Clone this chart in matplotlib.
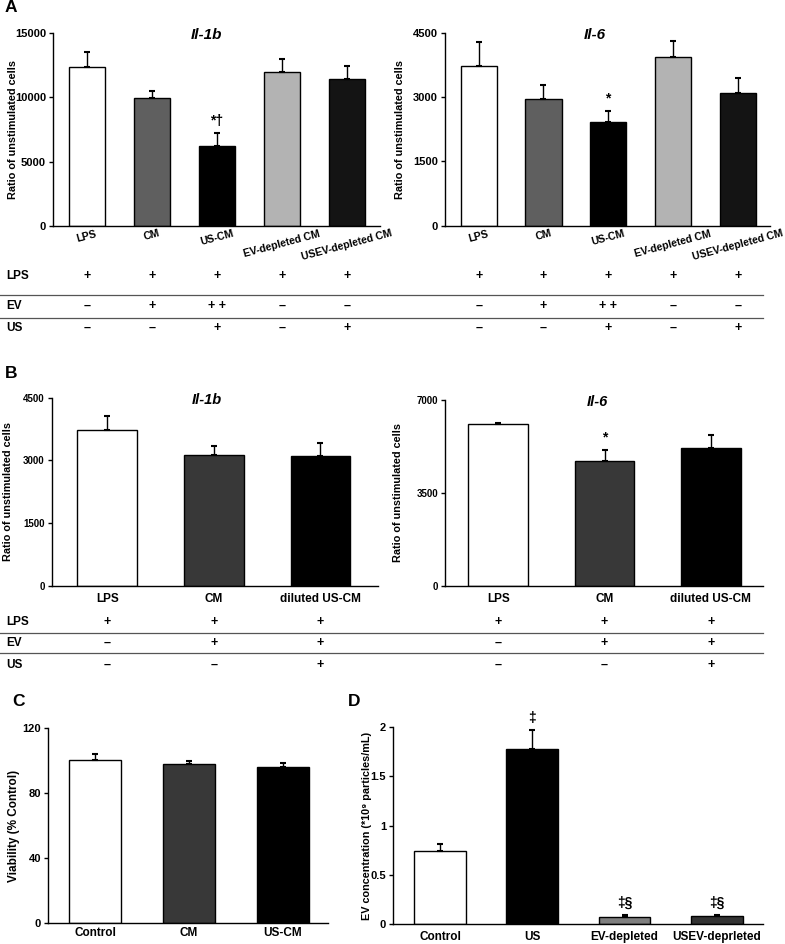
import numpy as np
import matplotlib
matplotlib.use("Agg")
import matplotlib.pyplot as plt
from matplotlib.lines import Line2D
from matplotlib import transforms

plt.rcParams['font.family'] = ['Liberation Sans', 'DejaVu Sans']
plt.rcParams['font.weight'] = 'bold'
NARROW = ['Liberation Sans Narrow', 'Liberation Sans', 'DejaVu Sans']

W, H = 785, 944

# ---- panel A data ----
a_groups   = ["LPS", "CM", "US-CM", "EV-depleted CM", "USEV-depleted CM"]
a_il1b     = [12400, 9980, 6210, 11960, 11460]
a_il1b_err = [1120, 520, 990, 1060, 970]
a_il1b_sig = ["", "", "*\u2020", "", ""]
a_il6      = [3730, 2945, 2415, 3940, 3100]
a_il6_err  = [550, 335, 250, 375, 335]
a_il6_sig  = ["", "", "*", "", ""]
a_colors   = ["white", "#5f5f5f", "black", "#b3b3b3", "#141414"]
a_lps = ["+", "+", "+", "+", "+"]
a_ev  = ["\u2013", "+", "+ +", "\u2013", "\u2013"]
a_us  = ["\u2013", "\u2013", "+", "\u2013", "+"]

# ---- panel B data ----
b_groups   = ["LPS", "CM", "diluted US-CM"]
b_il1b     = [3725, 3128, 3104]
b_il1b_err = [345, 215, 310]
b_il6      = [6070, 4680, 5195]
b_il6_err  = [40, 410, 475]
b_il6_sig  = ["", "*", ""]
b_colors   = ["white", "#383838", "black"]
b_lps = ["+", "+", "+"]
b_ev  = ["\u2013", "+", "+"]
b_us  = ["\u2013", "\u2013", "+"]

# ---- panel C data ----
c_groups = ["Control", "CM", "US-CM"]
c_viab   = [100.5, 98.1, 96.4]
c_err    = [3.5, 1.6, 2.5]
c_colors = ["white", "#383838", "black"]

# ---- panel D data ----
d_groups = ["Control", "US", "EV-depleted", "USEV-deprleted"]
d_conc   = [0.744, 1.774, 0.077, 0.084]
d_err    = [0.064, 0.19, 0.017, 0.010]
d_sig    = ["", "\u2021", "\u2021\u00a7", "\u2021\u00a7"]
d_colors = ["white", "black", "#7f7f7f", "#333333"]

fig = plt.figure(figsize=(W / 100, H / 100), dpi=100)


def px_axes(x0, y0, x1, y1):
    return fig.add_axes([x0 / W, 1 - y1 / H, (x1 - x0) / W, (y1 - y0) / H])


def bar_panel(ax, vals, errs, colors, labels, xlim, ylim, yticks, width=0.56,
              tick_size=8, label_size=8.5, family=None, rot=0, pad=2, sig=None):
    fam = family or plt.rcParams['font.family']
    x = np.arange(len(vals))
    ax.bar(x, vals, width=width, color=colors, edgecolor="black", linewidth=1.0, zorder=2)
    ax.errorbar(x, vals, yerr=[np.zeros(len(errs)), errs], fmt="none", ecolor="black",
                elinewidth=1.0, capsize=2.0, capthick=1.5, zorder=3)
    if sig is not None:
        for i, s in enumerate(sig):
            if s:
                ax.annotate(s, (x[i], vals[i] + errs[i]), xytext=(0, 9), textcoords="offset points",
                            ha="center", va="center", fontsize=10, fontweight="bold", family=fam)
    ax.set_xlim(*xlim)
    ax.set_ylim(*ylim)
    ax.set_yticks(yticks)
    ax.set_xticks(x)
    if rot:
        ax.set_xticklabels(labels, rotation=rot, ha="center", va="top", fontsize=label_size,
                           fontweight="bold", family=fam)
    else:
        ax.set_xticklabels(labels, fontsize=label_size, fontweight="bold", family=fam)
    for lab in ax.get_yticklabels():
        lab.set_fontsize(tick_size)
        lab.set_fontweight("bold")
        lab.set_family(fam)
    ax.tick_params(axis="x", length=0, pad=pad)
    ax.tick_params(axis="y", length=3, width=1, pad=2)
    for s in ["top", "right"]:
        ax.spines[s].set_visible(False)
    for s in ["left", "bottom"]:
        ax.spines[s].set_linewidth(1.0)
    return x


def ylabel_at(ax, text, x_px, size, family=None):
    ax.set_ylabel(text, fontsize=size, fontweight="bold", family=family or plt.rcParams['font.family'])
    bb = ax.get_position()
    ax.yaxis.set_label_coords((x_px / W - bb.x0) / bb.width, 0.5)


def title_at(ax, text, xfrac, size, family=None):
    ax.text(xfrac, 0.99, text, transform=ax.transAxes, ha="center", va="center",
            fontsize=size, fontweight="bold", style="italic",
            family=family or plt.rcParams['font.family'])


def table_rows(ax, rows, ys, size=9):
    tr = transforms.blended_transform_factory(ax.transData, fig.transFigure)
    for row, y in zip(rows, ys):
        for i, s in enumerate(row):
            ax.text(i, 1 - y / H, s, transform=tr, ha="center", va="center",
                    fontsize=size, fontweight="bold", clip_on=False)


def hline(y, x0=0, x1=763):
    fig.add_artist(Line2D([x0 / W, x1 / W], [1 - y / H, 1 - y / H], transform=fig.transFigure,
                          color="#555555", linewidth=0.9))


def row_labels(names, ys, size=8.5):
    for n, y in zip(names, ys):
        fig.text(6 / W, 1 - y / H, n, ha="left", va="center", fontsize=size, fontweight="bold")


# ---------------- A ----------------
ax = px_axes(53, 33.3, 380, 225.7)
bar_panel(ax, a_il1b, a_il1b_err, a_colors, a_groups, (-0.52, 4.51), (0, 15000),
          [0, 5000, 10000, 15000], label_size=7.6, rot=15, pad=2, sig=a_il1b_sig)
ylabel_at(ax, "Ratio of unstimulated cells", 18, 7.8)
title_at(ax, "Il-1b", 0.47, 11)
table_rows(ax, [a_lps, a_ev, a_us], [276, 306, 328])

ax = px_axes(445, 32.7, 770, 225.7)
bar_panel(ax, a_il6, a_il6_err, a_colors, a_groups, (-0.52, 4.5), (0, 4500),
          [0, 1500, 3000, 4500], label_size=7.6, rot=15, pad=2, sig=a_il6_sig)
ylabel_at(ax, "Ratio of unstimulated cells", 405, 7.8)
title_at(ax, "Il-6", 0.46, 11)
table_rows(ax, [a_lps, a_ev, a_us], [276, 306, 328])

row_labels(["LPS", "EV", "US"], [276, 306, 328])
hline(295)
hline(318)

# ---------------- B ----------------
ax = px_axes(51.7, 397.7, 378, 585.7)
bar_panel(ax, b_il1b, b_il1b_err, b_colors, b_groups, (-0.52, 2.54), (0, 4500),
          [0, 1500, 3000, 4500], tick_size=7, label_size=8.5, family=NARROW, pad=5)
ylabel_at(ax, "Ratio of unstimulated cells", 13, 7.8)
title_at(ax, "Il-1b", 0.476, 10.5, family=NARROW)
table_rows(ax, [b_lps, b_ev, b_us], [622, 643, 665])

ax = px_axes(445, 399.7, 763, 585.7)
bar_panel(ax, b_il6, b_il6_err, b_colors, b_groups, (-0.5, 2.49), (0, 7000),
          [0, 3500, 7000], tick_size=7, label_size=8.5, family=NARROW, pad=5, sig=b_il6_sig)
ylabel_at(ax, "Ratio of unstimulated cells", 403, 7.8)
title_at(ax, "Il-6", 0.478, 10.5, family=NARROW)
table_rows(ax, [b_lps, b_ev, b_us], [622, 643, 665])

row_labels(["LPS", "EV", "US"], [622, 643, 665])
hline(633)
hline(653)

# ---------------- C ----------------
ax = px_axes(48, 728.3, 328, 923.3)
bar_panel(ax, c_viab, c_err, c_colors, c_groups, (-0.5, 2.48), (0, 120),
          [0, 40, 80, 120], width=0.55, tick_size=8, label_size=8.5, pad=3)
ylabel_at(ax, "Viability (% Control)", 20, 8.5)

# ---------------- D ----------------
ax = px_axes(393, 726.7, 763, 924.3)
bar_panel(ax, d_conc, d_err, d_colors, d_groups, (-0.51, 3.5), (0, 2),
          [0, 0.5, 1, 1.5, 2], tick_size=8, label_size=8.5, pad=5, sig=d_sig)
ax.set_yticklabels(["0", "0.5", "1", "1.5", "2"], fontsize=8, fontweight="bold")
ylabel_at(ax, "EV concentration (*10\u2079 particles/mL)", 372, 7.8)

# panel letters
for letter, x, y in [("A", 5, 8), ("B", 5, 373), ("C", 12, 701), ("D", 348, 701)]:
    fig.text(x / W, 1 - y / H, letter, ha="left", va="center", fontsize=12.5, fontweight="bold")

fig.savefig("out.png", dpi=100)
